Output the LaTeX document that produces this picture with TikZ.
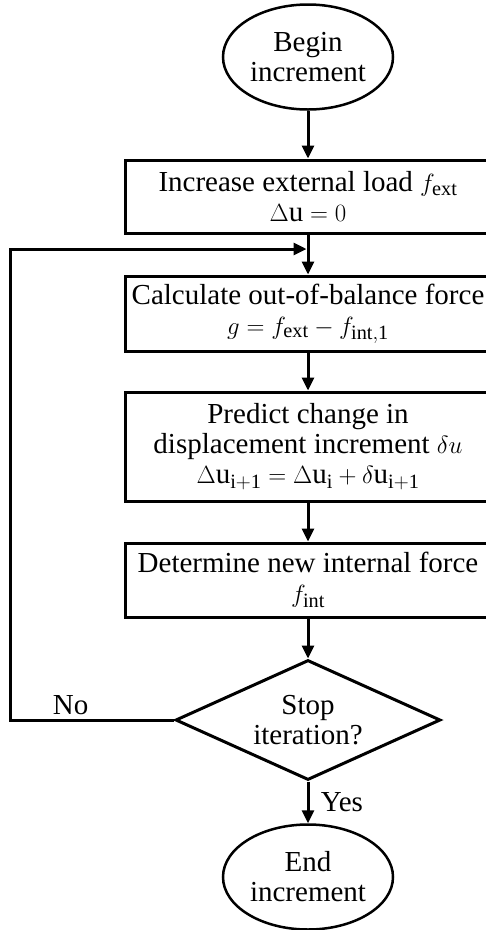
\documentclass[tikz,border=0pt]{standalone}
\usepackage{fontspec}
\setmainfont{Liberation Serif}
\usetikzlibrary{arrows.meta,shapes.geometric}

\tikzset{
	txt/.style={font=\fontsize{29}{30}\selectfont},
	terminal/.style={txt, draw, ellipse, line width=2.5pt, minimum width=170pt, minimum height=105pt, inner sep=0pt, align=center},
	stepbox/.style={txt, draw, rectangle, line width=3pt, minimum width=366pt, inner sep=0pt, align=center},
	decision/.style={txt, draw, diamond, aspect=2.2, line width=3pt, minimum width=265pt, minimum height=120pt, inner sep=0pt, align=center},
	flow/.style={line width=3pt, -{Triangle[length=13pt,width=12pt]}},
}

\begin{document}
\begin{tikzpicture}[x=1pt,y=1pt]
		%%%%% START %%%%%
		\clip (0,0) rectangle (486,-930);
		
		\node[terminal] (begin) at (308,-57) {Begin\\increment};
		
		\node[stepbox, minimum height=73pt] (load) at (308,-196.5) {Increase external load $f_{\mathrm{ext}}$\\$\Delta\mathrm{u} = 0$};
		\node[stepbox, minimum height=75pt] (balance) at (308,-313.5) {Calculate out-of-balance force\\$g = f_{\mathrm{ext}} - f_{\mathrm{int,1}}$};
		\node[stepbox, minimum height=109pt] (predict) at (308,-446.5) {Predict change in\\displacement increment $\delta u$\\$\Delta\mathrm{u}_{\mathrm{i+1}} = \Delta\mathrm{u}_{\mathrm{i}} + \delta\mathrm{u}_{\mathrm{i+1}}$};
		\node[stepbox, minimum height=74pt] (internal) at (308,-580) {Determine new internal force\\$f_{\mathrm{int}}$};
		
		\node[decision] (decide) at (308,-720) {Stop\\iteration?};
		\node[terminal] (finish) at (308,-877) {End\\increment};
		
		\coordinate (merge) at (308,-249);
		
		\draw[flow] (begin) -- (load);
		\draw[flow] (load) -- (balance);
		\draw[flow] (balance) -- (predict);
		\draw[flow] (predict) -- (internal);
		\draw[flow] (internal) -- (decide);
		\draw[flow] (decide) -- node[txt, right=8pt] {Yes} (finish);
		
		% loop back
		\draw[flow, shorten >=1.5pt] (decide.west) -- node[txt, above, pos=0.63] {No} ++(-164,0) |- (merge);
		
		%%%%% END %%%%%
	\end{tikzpicture}
\end{document}
